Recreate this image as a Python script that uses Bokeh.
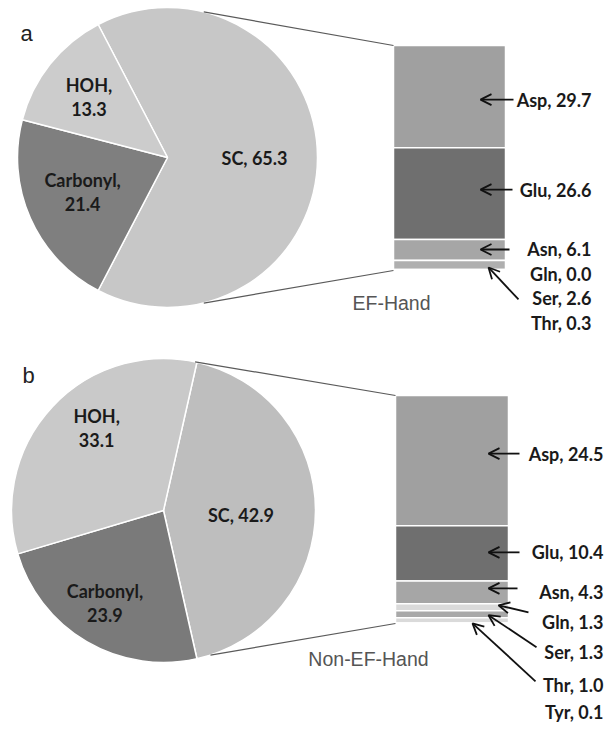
import math
from bokeh.plotting import figure
from bokeh.models import Range1d, Arrow, OpenHead
from bokeh.core.properties import value
from bokeh.embed import file_html
from bokeh.resources import INLINE

# ---------------- data ----------------
panel_titles = ["a", "b"]
group_labels = ["EF-Hand", "Non-EF-Hand"]

pie_cats = ["SC", "Carbonyl", "HOH"]
pie_a = [65.3, 21.4, 13.3]
pie_b = [42.9, 23.9, 33.1]

bar_cats_a = ["Asp", "Glu", "Asn", "Gln", "Ser", "Thr"]
bar_a = [29.7, 26.6, 6.1, 0.0, 2.6, 0.3]
bar_cats_b = ["Asp", "Glu", "Asn", "Gln", "Ser", "Thr", "Tyr"]
bar_b = [24.5, 10.4, 4.3, 1.3, 1.3, 1.0, 0.1]

# ---------------- styles / layout ----------------
W, H = 604, 724
X0, YB = 0, 732 - H   # frame spans x: X0..X0+W, y: YB..732
FONT = value("Lato")


def Y(ref_y):
    return 732 - ref_y


layout_a = dict(
    title_xy=(20, 33), group_xy=(391, 302),
    cx=167, cy=157, r=150,
    pie_colors=["#c7c7c7", "#7f7f7f", "#cccccc"],
    pie_frac=[0.58, 0.61, 0.66], pie_dang=[0, -2, 1],
    pie_break=[False, True, True],
    conn_ang=[76, -76],
    bar_x0=393, bar_x1=505, bar_top=45, bar_bot=270,
    bar_colors=["#a0a0a0", "#6f6f6f", "#a6a6a6", "#d9d9d9", "#afafaf", "#d9d9d9"],
    lab_x=591,
    lab_dy=[3, -4, -0.5, 13, 33.5, 53.5],
    arrows=[(513, 0, 480, 3), (512, 0, 480, -4), (509, 0, 480, -0.5),
            None, (518, 1, 488, 2.5), None],
)

layout_b = dict(
    title_xy=(22, 375), group_xy=(368, 658),
    cx=163, cy=510, r=152,
    pie_colors=["#bebebe", "#7a7a7a", "#c9c9c9"],
    pie_frac=[0.51, 0.72, 0.70], pie_dang=[-3, -2, -8],
    pie_break=[False, True, True],
    conn_ang=[78, -72],
    bar_x0=395, bar_x1=508, bar_top=395, bar_bot=623,
    bar_colors=["#a0a0a0", "#6f6f6f", "#a6a6a6", "#dadada", "#a9a9a9", "#dadada", "#cfcfcf"],
    lab_x=603,
    lab_dy=[-7, -1, 0, 15, 38, 65, 89],
    arrows=[(519, 0, 488, -7), (519, 0, 488, -1), (517, -4, 488, -4),
            (528, -10, 498, -2), (536, -5, 488, 1), (535, -4, 472, 3), None],
)

p = figure(width=W, height=H, x_range=Range1d(X0, X0 + W), y_range=Range1d(YB, YB + H),
           output_backend="svg", toolbar_location=None, min_border=0,
           background_fill_color="white", border_fill_color="white")
p.outline_line_color = None
p.axis.visible = False
p.grid.visible = False


def draw_panel(name, title, group, vals, bcats, bvals, L):
    cx, cy, r = L["cx"], Y(L["cy"]), L["r"]
    tot = sum(vals)
    start0 = math.pi * vals[0] / tot
    starts, ends = [], []
    acc = 0.0
    for v in vals:
        starts.append(start0 - 2 * math.pi * acc / tot)
        acc += v
        ends.append(start0 - 2 * math.pi * acc / tot)
    p.wedge(x=cx, y=cy, radius=r, start_angle=starts, end_angle=ends,
            direction="clock", fill_color=L["pie_colors"], line_color="white",
            line_width=1.5)
    # pie labels
    lx, ly, lt = [], [], []
    for i, (c, v) in enumerate(zip(pie_cats, vals)):
        mid = (starts[i] + ends[i]) / 2 + math.radians(L["pie_dang"][i])
        f = L["pie_frac"][i] * r
        lx.append(cx + f * math.cos(mid))
        ly.append(cy + f * math.sin(mid))
        sep = ",\n" if L["pie_break"][i] else ", "
        lt.append(f"{c}{sep}{v:.1f}")
    p.text(x=lx, y=ly, text=lt, text_align="center", text_baseline="middle",
           text_font=FONT, text_font_style="bold", text_font_size="18px",
           text_color="#1a1a1a", text_line_height=1.1)

    # bar (own value scale, 0 at top)
    btot = sum(bvals)
    y_top, y_bot = Y(L["bar_top"]), Y(L["bar_bot"])
    k = btot / (y_top - y_bot)  # value units per px
    p.extra_y_ranges[name] = Range1d(start=(y_top - YB) * k, end=(y_top - (YB + H)) * k)
    cum0, cum1, cen = [], [], []
    acc = 0.0
    for v in bvals:
        cum0.append(acc)
        acc += v
        cum1.append(acc)
        cen.append(acc - v / 2)
    bx = (L["bar_x0"] + L["bar_x1"]) / 2
    bw = L["bar_x1"] - L["bar_x0"]
    p.vbar(x=bx, width=bw, top=cum0, bottom=cum1, y_range_name=name,
           fill_color=L["bar_colors"], line_color="white", line_width=1.5)

    # connectors
    for ang, yb in zip(L["conn_ang"], [y_top, y_bot]):
        a = math.radians(ang)
        p.line(x=[cx + r * math.cos(a), L["bar_x0"]], y=[cy + r * math.sin(a), yb],
               line_color="#5a5a5a", line_width=1.2)

    # bar labels and arrows
    lab_v = [c + d * k for c, d in zip(cen, L["lab_dy"])]
    p.text(x=L["lab_x"], y=lab_v, text=[f"{c}, {v:.1f}" for c, v in zip(bcats, bvals)],
           y_range_name=name, text_align="right", text_baseline="middle",
           text_font=FONT, text_font_style="bold", text_font_size="18px",
           text_color="#1a1a1a")
    for i, a in enumerate(L["arrows"]):
        if a is None:
            continue
        x0, dy0, x1, dy1 = a
        p.add_layout(Arrow(x_start=x0, y_start=lab_v[i] + dy0 * k,
                           x_end=x1, y_end=cen[i] + dy1 * k,
                           y_range_name=name, line_color="#111111", line_width=1.8,
                           end=OpenHead(size=11, line_width=1.8, line_color="#111111")))

    # panel letter and group label
    tx, ty = L["title_xy"]
    p.text(x=tx, y=Y(ty), text=[title], text_align="left", text_baseline="alphabetic",
           text_font=value("Liberation Sans"), text_font_size="22px", text_color="#222222")
    gx, gy = L["group_xy"]
    p.text(x=gx, y=Y(gy), text=[group], text_align="center", text_baseline="middle",
           text_font=value("Liberation Sans"), text_font_size="19.5px", text_color="#555555")


draw_panel("bar_a", panel_titles[0], group_labels[0], pie_a, bar_cats_a, bar_a, layout_a)
draw_panel("bar_b", panel_titles[1], group_labels[1], pie_b, bar_cats_b, bar_b, layout_b)

open("out.html", "w").write(file_html(p, INLINE))
